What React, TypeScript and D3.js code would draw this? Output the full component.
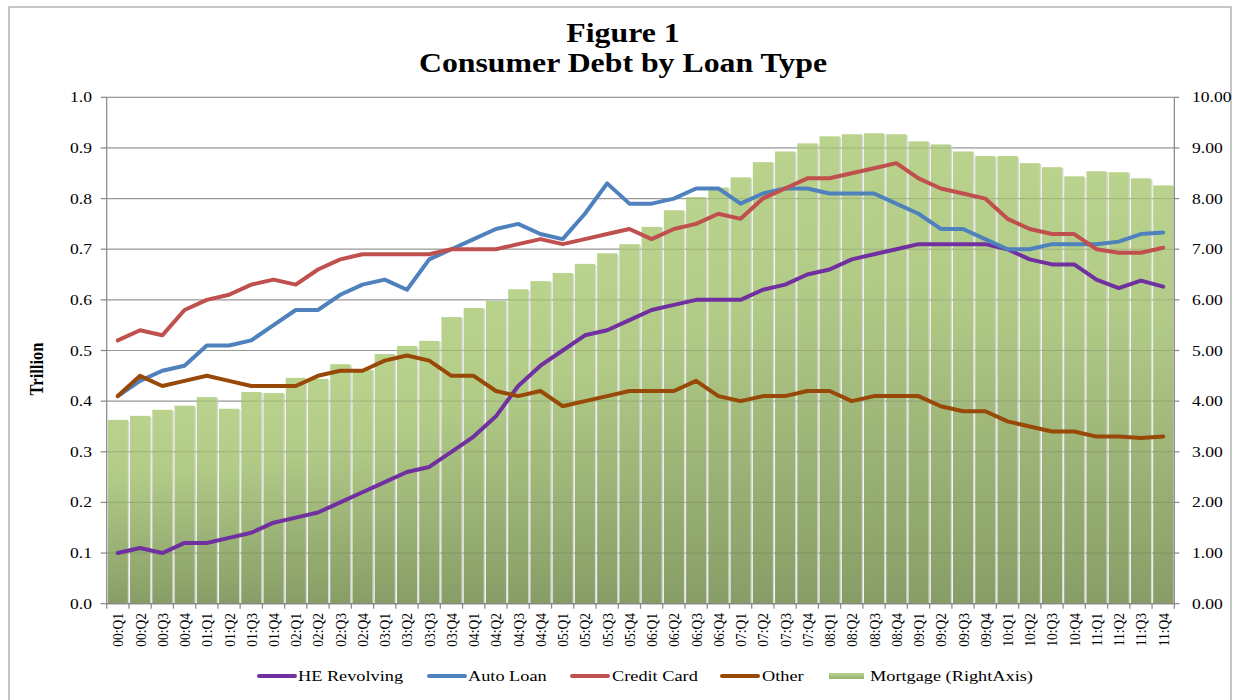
import React from "react";
import * as d3 from "d3";

const quarters = [
  "00:Q1","00:Q2","00:Q3","00:Q4","01:Q1","01:Q2","01:Q3","01:Q4",
  "02:Q1","02:Q2","02:Q3","02:Q4","03:Q1","03:Q2","03:Q3","03:Q4",
  "04:Q1","04:Q2","04:Q3","04:Q4","05:Q1","05:Q2","05:Q3","05:Q4",
  "06:Q1","06:Q2","06:Q3","06:Q4","07:Q1","07:Q2","07:Q3","07:Q4",
  "08:Q1","08:Q2","08:Q3","08:Q4","09:Q1","09:Q2","09:Q3","09:Q4",
  "10:Q1","10:Q2","10:Q3","10:Q4","11:Q1","11:Q2","11:Q3","11:Q4",
];

const mortgage = [3.63,3.71,3.83,3.91,4.08,3.85,4.18,4.16,4.46,4.44,4.73,4.62,4.93,5.09,5.19,5.66,5.84,5.98,6.21,6.37,6.53,6.71,6.92,7.10,7.44,7.77,8.03,8.22,8.42,8.72,8.93,9.09,9.23,9.27,9.29,9.27,9.13,9.07,8.93,8.84,8.84,8.70,8.62,8.44,8.54,8.52,8.40,8.26];

const heRevolving = [0.10,0.11,0.10,0.12,0.12,0.13,0.14,0.16,0.17,0.18,0.20,0.22,0.24,0.26,0.27,0.30,0.33,0.37,0.43,0.47,0.50,0.53,0.54,0.56,0.58,0.59,0.60,0.60,0.60,0.62,0.63,0.65,0.66,0.68,0.69,0.70,0.71,0.71,0.71,0.71,0.70,0.68,0.67,0.67,0.64,0.623,0.638,0.626];

const autoLoan = [0.41,0.44,0.46,0.47,0.51,0.51,0.52,0.55,0.58,0.58,0.61,0.63,0.64,0.62,0.68,0.70,0.72,0.74,0.75,0.73,0.72,0.77,0.83,0.79,0.79,0.80,0.82,0.82,0.79,0.81,0.82,0.82,0.81,0.81,0.81,0.79,0.77,0.74,0.74,0.72,0.70,0.70,0.71,0.71,0.71,0.715,0.73,0.733];

const creditCard = [0.52,0.54,0.53,0.58,0.60,0.61,0.63,0.64,0.63,0.66,0.68,0.69,0.69,0.69,0.69,0.70,0.70,0.70,0.71,0.72,0.71,0.72,0.73,0.74,0.72,0.74,0.75,0.77,0.76,0.80,0.82,0.84,0.84,0.85,0.86,0.87,0.84,0.82,0.81,0.80,0.76,0.74,0.73,0.73,0.70,0.693,0.693,0.703];

const other = [0.41,0.45,0.43,0.44,0.45,0.44,0.43,0.43,0.43,0.45,0.46,0.46,0.48,0.49,0.48,0.45,0.45,0.42,0.41,0.42,0.39,0.40,0.41,0.42,0.42,0.42,0.44,0.41,0.40,0.41,0.41,0.42,0.42,0.40,0.41,0.41,0.41,0.39,0.38,0.38,0.36,0.35,0.34,0.34,0.33,0.33,0.327,0.33];

const leftTicks = [0, 0.1, 0.2, 0.3, 0.4, 0.5, 0.6, 0.7, 0.8, 0.9, 1.0];
const rightTicks = [0, 1, 2, 3, 4, 5, 6, 7, 8, 9, 10];

const lineSeries = [
  { name: "HE Revolving", values: heRevolving, color: "#7030A0" },
  { name: "Auto Loan", values: autoLoan, color: "#4F81BD" },
  { name: "Credit Card", values: creditCard, color: "#C0504D" },
  { name: "Other", values: other, color: "#984807" },
];

const FONT = "'Liberation Serif', 'Times New Roman', serif";

const W = 1238, H = 700;
const L = 106.7, R = 1174.3, T = 97.3, B = 603.7;

function ST({ x, y, sx = 1.17, size = 15, anchor = "start", weight = "normal", children }: any) {
  return (
    <text
      transform={`translate(${x},${y}) scale(${sx},1)`}
      fontFamily={FONT}
      fontSize={size}
      fontWeight={weight}
      textAnchor={anchor}
      fill="#000"
    >
      {children}
    </text>
  );
}

export default function App() {
  const x = d3.scaleBand<string>().domain(quarters).range([L, R]).paddingInner(0.1).paddingOuter(0.05);
  const step = (R - L) / quarters.length;
  const xc = (i: number) => L + step * (i + 0.5);
  const yL = d3.scaleLinear().domain([0, 1]).range([B, T]);
  const yR = d3.scaleLinear().domain([0, 10]).range([B, T]);
  const line = d3
    .line<number>()
    .x((_, i) => xc(i))
    .y((d) => yL(d));

  const legendItems = [
    { type: "line", color: "#7030A0", x0: 257, x1: 297, label: "HE Revolving", tx: 298 },
    { type: "line", color: "#4F81BD", x0: 427, x1: 467, label: "Auto Loan", tx: 468 },
    { type: "line", color: "#C0504D", x0: 570, x1: 610, label: "Credit Card", tx: 612 },
    { type: "line", color: "#984807", x0: 720, x1: 760, label: "Other", tx: 762 },
    { type: "rect", color: "#A6C27C", x0: 829, x1: 864, label: "Mortgage (RightAxis)", tx: 870 },
  ];

  return (
    <div style={{ position: "absolute", left: 0, top: 0 }}>
      <svg width={W} height={H} style={{ display: "block", background: "#fff" }}>
        <defs>
          <linearGradient id="barGrad" x1="0" y1="0" x2="0" y2="1">
            <stop offset="0%" stopColor="#B9D38D" />
            <stop offset="30%" stopColor="#B2CC88" />
            <stop offset="100%" stopColor="#879D66" />
          </linearGradient>
          <linearGradient id="legGrad" x1="0" y1="0" x2="0" y2="1">
            <stop offset="0%" stopColor="#B9D38D" />
            <stop offset="100%" stopColor="#98B272" />
          </linearGradient>
        </defs>

        <rect x={9} y={7} width={1222} height={700} fill="#fff" stroke="#A0A0A0" strokeWidth={1.2} />

        {/* Title */}
        <ST x={623} y={42} size={26.5} sx={1.2} anchor="middle" weight="bold">Figure 1</ST>
        <ST x={623} y={72} size={26.5} sx={1.2} anchor="middle" weight="bold">Consumer Debt by Loan Type</ST>

        {/* Gridlines behind */}
        {leftTicks.map((t) => (
          <line key={"g" + t} x1={L} x2={R} y1={yL(t)} y2={yL(t)} stroke="#ABABAB" strokeWidth={1.2} />
        ))}

        {/* Bars with shadow */}
        {mortgage.map((v, i) => (
          <rect
            key={"s" + i}
            x={(x(quarters[i]) as number) + 1.5}
            y={yR(v) + 1}
            width={x.bandwidth()}
            height={B - yR(v) - 1}
            fill="#D6D6D6"
          />
        ))}
        {mortgage.map((v, i) => (
          <rect
            key={"b" + i}
            x={x(quarters[i]) as number}
            y={yR(v)}
            width={x.bandwidth()}
            height={B - yR(v)}
            fill="url(#barGrad)"
          />
        ))}
        {/* faint gridlines over bars */}
        {leftTicks.map((t) => (
          <line key={"go" + t} x1={L} x2={R} y1={yL(t)} y2={yL(t)} stroke="#505050" strokeOpacity={0.22} strokeWidth={1} />
        ))}

        {/* Axes */}
        <line x1={L} x2={L} y1={T} y2={B} stroke="#868686" strokeWidth={1.2} />
        <line x1={R} x2={R} y1={T} y2={B} stroke="#868686" strokeWidth={1.2} />
        <line x1={L} x2={R} y1={B} y2={B} stroke="#868686" strokeWidth={1.2} />
        {leftTicks.map((t) => (
          <g key={"lt" + t}>
            <line x1={L - 6} x2={L} y1={yL(t)} y2={yL(t)} stroke="#868686" strokeWidth={1.2} />
            <ST x={92} y={yL(t) + 5} anchor="end">{t.toFixed(1)}</ST>
          </g>
        ))}
        {rightTicks.map((t) => (
          <g key={"rt" + t}>
            <line x1={R} x2={R + 5} y1={yR(t)} y2={yR(t)} stroke="#868686" strokeWidth={1.2} />
            <ST x={1192} y={yR(t) + 5}>{t.toFixed(2)}</ST>
          </g>
        ))}
        {d3.range(quarters.length + 1).map((i) => (
          <line key={"xt" + i} x1={L + step * i} x2={L + step * i} y1={B} y2={B + 5} stroke="#868686" strokeWidth={1.2} />
        ))}
        {quarters.map((q, i) => (
          <text
            key={"xl" + q}
            transform={`translate(${xc(i) + 5.5},${613}) rotate(-90) scale(1,1.15)`}
            fontFamily={FONT}
            fontSize={13.5}
            textAnchor="end"
            fill="#000"
          >
            {q}
          </text>
        ))}

        {/* Y axis title */}
        <text
          transform={`translate(43,369) rotate(-90) scale(1,1.1)`}
          fontFamily={FONT}
          fontSize={16.5}
          fontWeight="bold"
          textAnchor="middle"
          fill="#000"
        >
          Trillion
        </text>

        {/* Lines */}
        {lineSeries.map((s) => (
          <path
            key={s.name}
            d={line(s.values) as string}
            fill="none"
            stroke={s.color}
            strokeWidth={4}
            strokeLinejoin="round"
            strokeLinecap="round"
          />
        ))}

        {/* Legend */}
        {legendItems.map((it) => (
          <g key={it.label}>
            {it.type === "line" ? (
              <line x1={it.x0 + 2} x2={it.x1 - 2} y1={676} y2={676} stroke={it.color} strokeWidth={4} strokeLinecap="round" />
            ) : (
              <rect x={it.x0} y={673} width={it.x1 - it.x0} height={6} fill="url(#legGrad)" />
            )}
            <ST x={it.tx} y={681} size={15.5} sx={1.18}>{it.label}</ST>
          </g>
        ))}
      </svg>
    </div>
  );
}
